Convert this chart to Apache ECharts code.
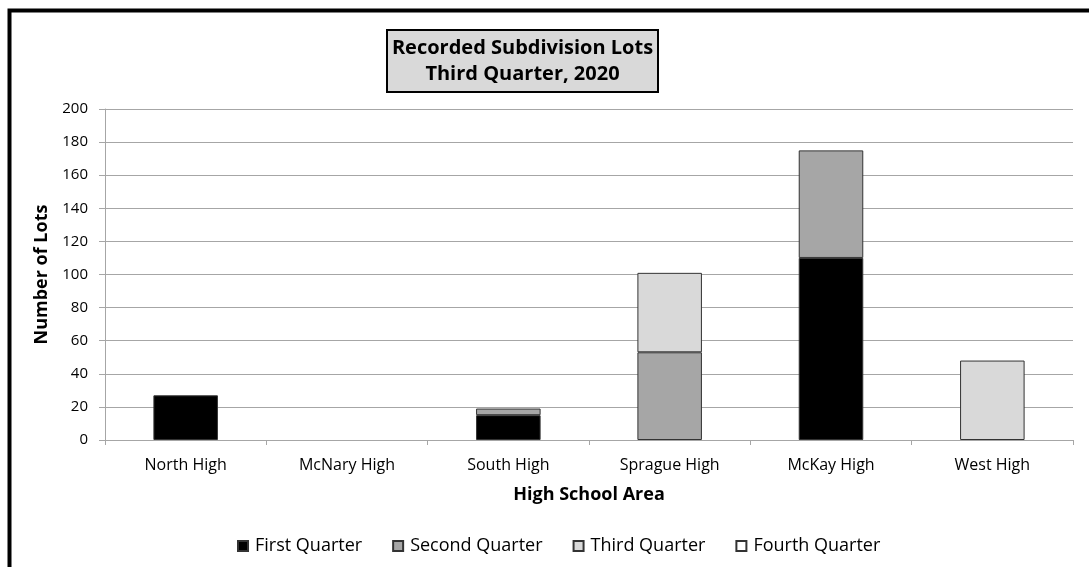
<!DOCTYPE html>
<html>
<head>
<meta charset="utf-8">
<script src="https://cdn.jsdelivr.net/npm/echarts@6/dist/echarts.min.js"></script>
<style>
html,body{margin:0;padding:0;background:#fff;}
#main{width:1089px;height:567px;}
</style>
</head>
<body>
<div id="main"></div>
<script>
const categories = ['North High', 'McNary High', 'South High', 'Sprague High', 'McKay High', 'West High'];
const seriesNames = ['First Quarter', 'Second Quarter', 'Third Quarter', 'Fourth Quarter'];
const firstQuarter = [27, 0, 15, 0, 110, 0];
const secondQuarter = [0, 0, 4, 53, 65, 0];
const thirdQuarter = [0, 0, 0, 48, 0, 48];
const fourthQuarter = [0, 0, 0, 0, 0, 0];
const yTicks = [0, 20, 40, 60, 80, 100, 120, 140, 160, 180, 200];
const titleLines = ['Recorded Subdivision Lots', 'Third Quarter, 2020'];

const colors = ['#000000', '#a6a6a6', '#d9d9d9', '#ffffff'];
const FONT = '"Open Sans", sans-serif';
const values = [firstQuarter, secondQuarter, thirdQuarter, fourthQuarter];

const chart = echarts.init(document.getElementById('main'));
chart.setOption({
  animation: false,
  backgroundColor: '#ffffff',
  textStyle: { fontFamily: FONT },
  title: {
    text: titleLines.map(l => '{t|' + l + '}').join('\n'),
    left: 387,
    top: 27,
    backgroundColor: '#d9d9d9',
    borderColor: '#000000',
    borderWidth: 2,
    padding: [8, 4, 8, 4],
    textStyle: {
      rich: {
        t: {
          fontFamily: FONT, fontSize: 20, fontWeight: 'bold', color: '#000',
          lineHeight: 26, width: 263, align: 'center'
        }
      }
    }
  },
  graphic: [{
    type: 'rect',
    shape: { x: 9.5, y: 10.5, width: 1300, height: 800 },
    style: { fill: 'none', stroke: '#000000', lineWidth: 4 },
    silent: true, z: 100
  }],
  legend: {
    data: seriesNames,
    left: 232,
    top: 532,
    icon: 'rect',
    itemWidth: 10,
    itemHeight: 10,
    itemGap: 30,
    textStyle: { fontFamily: FONT, fontSize: 18, color: '#000', padding: [0, 0, 0, 2] }
  },
  grid: { left: 105, right: 16, top: 109, bottom: 127, containLabel: false },
  xAxis: {
    type: 'category',
    data: categories,
    name: 'High School Area',
    nameLocation: 'middle',
    nameGap: 46,
    nameTextStyle: { fontFamily: FONT, fontSize: 18, fontWeight: 'bold', color: '#000' },
    axisLine: { show: true, lineStyle: { color: '#a6a6a6', width: 1 } },
    axisTick: { show: true, length: 5, lineStyle: { color: '#a6a6a6' } },
    axisLabel: { fontFamily: FONT, fontSize: 16, color: '#000', margin: 17 }
  },
  yAxis: {
    type: 'value',
    min: yTicks[0],
    max: yTicks[yTicks.length - 1],
    interval: yTicks[1] - yTicks[0],
    name: 'Number of Lots',
    nameLocation: 'middle',
    nameGap: 50,
    nameRotate: 90,
    nameTextStyle: { fontFamily: FONT, fontSize: 18, fontWeight: 'bold', color: '#000' },
    axisLine: { show: true, lineStyle: { color: '#a6a6a6', width: 1 } },
    axisTick: { show: true, length: 6, lineStyle: { color: '#a6a6a6' } },
    axisLabel: { fontFamily: FONT, fontSize: 15, color: '#000', margin: 17 },
    splitLine: { show: true, lineStyle: { color: '#a6a6a6', width: 1 } }
  },
  series: seriesNames.map((name, i) => ({
    name: name,
    type: 'bar',
    stack: 'total',
    barWidth: '40%',
    data: values[i].map(v => (v === 0 ? null : v)),
    itemStyle: { color: colors[i], borderColor: '#333333', borderWidth: 1 }
  }))
});
</script>
</body>
</html>
